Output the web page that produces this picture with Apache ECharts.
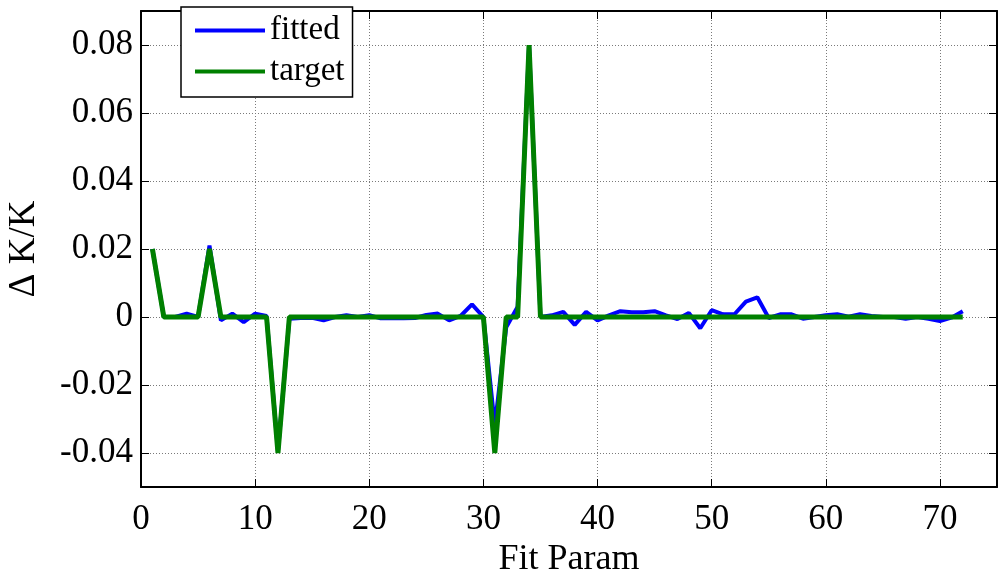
<!DOCTYPE html>
<html>
<head>
<meta charset="utf-8">
<script src="https://cdn.jsdelivr.net/npm/echarts@6/dist/echarts.min.js"></script>
<style>
  html, body { margin: 0; padding: 0; background: #fff; }
  #chart { width: 998px; height: 570px; }
</style>
</head>
<body>
<div id="chart"></div>
<script>
// fit parameter index (x)
const paramIdx = [
  1, 2, 3, 4, 5, 6, 7, 8, 9, 10, 11, 12, 13, 14, 15, 16, 17, 18, 19, 20, 21, 22, 23, 24,
  25, 26, 27, 28, 29, 30, 31, 32, 33, 34, 35, 36, 37, 38, 39, 40, 41, 42, 43, 44, 45, 46, 47, 48,
  49, 50, 51, 52, 53, 54, 55, 56, 57, 58, 59, 60, 61, 62, 63, 64, 65, 66, 67, 68, 69, 70, 71, 72
];

const fitted = [
  0.02, 0, 0, 0.001, 0, 0.021, -0.001, 0.001, -0.0015, 0.001, 0.0003, -0.0395,
  -0.0005, -0.0003, -0.0002, -0.001, 0, 0.0005, 0, 0.0005, -0.0004, -0.0004, -0.0004, -0.0003,
  0.0006, 0.001, -0.001, 0.0003, 0.0037, 0, -0.032, -0.003, 0.003, 0.08, 0, 0.0005,
  0.0015, -0.0023, 0.0015, -0.001, 0.0005, 0.0017, 0.0014, 0.0014, 0.0017, 0.0005, -0.0006, 0.0012,
  -0.0033, 0.002, 0.0008, 0.0008, 0.0045, 0.0058, -0.0003, 0.0008, 0.0008, -0.0005, 0, 0.0005,
  0.0008, 0.0001, 0.0008, 0.0003, 0, 0, -0.0005, 0, -0.0005, -0.0012, -0.0002, 0.0017
];

const target = [
  0.02, 0, 0, 0, 0, 0.02, 0, 0, 0, 0, 0, -0.04,
  0, 0, 0, 0, 0, 0, 0, 0, 0, 0, 0, 0,
  0, 0, 0, 0, 0, 0, -0.04, 0, 0, 0.08, 0, 0,
  0, 0, 0, 0, 0, 0, 0, 0, 0, 0, 0, 0,
  0, 0, 0, 0, 0, 0, 0, 0, 0, 0, 0, 0,
  0, 0, 0, 0, 0, 0, 0, 0, 0, 0, 0, 0
];

const xTicks = [0, 10, 20, 30, 40, 50, 60, 70];
const yTicks = [-0.04, -0.02, 0, 0.02, 0.04, 0.06, 0.08];

const FONT = '"Liberation Serif", "Times New Roman", serif';

const chart = echarts.init(document.getElementById('chart'));

const gridLine = { show: true, lineStyle: { color: '#7a7a7a', type: [1, 2], width: 1 } };
const axisLine = { show: true, onZero: false, lineStyle: { color: '#000', width: 2 } };

function boxAxis(pos, min, max, ticks) {
  return {
    type: 'value', position: pos, min, max,
    axisLine: axisLine,
    axisTick: { show: true, inside: true, length: 8, customValues: ticks, lineStyle: { color: '#000', width: 1 } },
    axisLabel: { show: false },
    splitLine: { show: false }
  };
}

chart.setOption({
  animation: false,
  backgroundColor: '#fff',
  grid: { left: 141, right: 1, top: 11, bottom: 83, containLabel: false, outerBoundsMode: 'none' },
  legend: {
    orient: 'vertical',
    left: 181,
    top: 7,
    padding: [7, 8, 9, 14],
    itemGap: 8,
    itemWidth: 70,
    itemHeight: 4,
    icon: 'rect',
    backgroundColor: '#fff',
    borderColor: '#000',
    borderWidth: 1.5,
    z: 10,
    textStyle: { fontFamily: FONT, fontSize: 33, color: '#000', lineHeight: 32 },
    data: ['fitted', 'target']
  },
  xAxis: [
    {
      type: 'value', min: 0, max: 75,
      name: 'Fit Param', nameLocation: 'middle', nameGap: 45,
      nameTextStyle: { fontFamily: FONT, fontSize: 36, color: '#000' },
      axisLine: axisLine,
      axisTick: { show: true, inside: true, length: 8, customValues: xTicks, lineStyle: { color: '#000', width: 1 } },
      axisLabel: { customValues: xTicks, margin: 15, fontFamily: FONT, fontSize: 35, color: '#000' },
      splitLine: gridLine
    },
    boxAxis('top', 0, 75, xTicks)
  ],
  yAxis: [
    {
      type: 'value', min: -0.05, max: 0.09,
      name: 'Δ K/K', nameLocation: 'middle', nameGap: 98, nameRotate: 90,
      nameTextStyle: { fontFamily: FONT, fontSize: 37, color: '#000' },
      axisLine: axisLine,
      axisTick: { show: true, inside: true, length: 8, customValues: yTicks, lineStyle: { color: '#000', width: 1 } },
      axisLabel: { customValues: yTicks, margin: 8, fontFamily: FONT, fontSize: 35, color: '#000' },
      splitLine: gridLine
    },
    boxAxis('right', -0.05, 0.09, yTicks)
  ],
  series: [
    {
      name: 'fitted', type: 'line', symbol: 'none',
      lineStyle: { color: '#0000ff', width: 4 },
      itemStyle: { color: '#0000ff' },
      data: paramIdx.map((p, i) => [p, fitted[i]])
    },
    {
      name: 'target', type: 'line', symbol: 'none',
      lineStyle: { color: '#008000', width: 5 },
      itemStyle: { color: '#008000' },
      data: paramIdx.map((p, i) => [p, target[i]])
    }
  ]
});
</script>
</body>
</html>
